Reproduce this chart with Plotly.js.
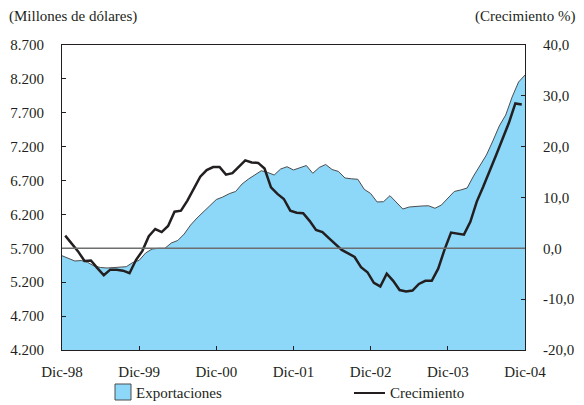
<!DOCTYPE html>
<html>
<head>
<meta charset="utf-8">
<script src="https://cdn.plot.ly/plotly-3.0.1.min.js"></script>
<style>html,body{margin:0;padding:0;background:#fff;}#chart{width:584px;height:405px;}</style>
</head>
<body>
<div id="chart"></div>
<script>
// Monthly index: 0 = Dic-98 ... 72 = Dic-04
const tickLabels = ['Dic-98','Dic-99','Dic-00','Dic-01','Dic-02','Dic-03','Dic-04'];
const tickMonths = [0,12,24,36,48,60,72];

// Exportaciones (millones de dólares), Dic-98 .. Dic-04
const exportaciones = [
  5591,5554,5513,5520,5492,5439,5417,5410,5417,5425,5429,5491,
  5523,5631,5690,5700,5700,5779,5816,5911,6044,6148,6243,6339,
  6420,6457,6506,6539,6649,6723,6782,6845,6819,6782,6870,6904,
  6856,6885,6922,6807,6893,6937,6863,6834,6738,6726,6719,6571,
  6509,6384,6388,6477,6376,6280,6310,6320,6325,6328,6291,6339,
  6443,6539,6561,6590,6767,6929,7077,7284,7505,7667,7933,8154,
  8257
];

// Crecimiento (%), plotted mid-month
const crecimiento = [
  2.5,1.0,-0.6,-2.5,-2.4,-3.9,-5.3,-4.2,-4.2,-4.4,-4.9,-2.3,
  -0.5,2.4,3.8,3.2,4.4,7.2,7.4,9.4,11.9,14.1,15.4,16.0,
  16.0,14.5,14.8,16.1,17.3,16.9,16.8,15.7,12.0,10.7,9.7,7.4,
  7.0,6.9,5.4,3.6,3.2,2.0,0.9,-0.3,-1.0,-1.7,-3.7,-4.7,
  -6.8,-7.5,-5.0,-6.4,-8.2,-8.5,-8.3,-7.0,-6.4,-6.4,-4.0,-0.2,
  3.1,2.9,2.7,5.2,9.2,12.1,15.1,18.3,21.5,24.7,28.5,28.3
];

const leftTicks = [4200,4700,5200,5700,6200,6700,7200,7700,8200,8700];
const rightTicks = [-20,-10,0,10,20,30,40];
const rightTickText = ['-20,0','-10,0','0,0','10,0','20,0','30,0','40,0'];

const xExp = exportaciones.map((_, i) => i);
const xCre = crecimiento.map((_, i) => i + 0.5);

const fontFam = '"Liberation Serif", "Times New Roman", serif';
const txt = '#231f20';

const traces = [
  {
    x: xExp, y: exportaciones, type: 'scatter', mode: 'lines',
    fill: 'tozeroy', fillcolor: '#8dd8f8',
    line: {color: '#4d4d4f', width: 1},
    name: 'Exportaciones', showlegend: false, hoverinfo: 'skip'
  },
  {
    x: xCre, y: crecimiento, type: 'scatter', mode: 'lines', yaxis: 'y2',
    line: {color: '#231f20', width: 2.5},
    name: 'Crecimiento', showlegend: false, hoverinfo: 'skip'
  }
];

// plot area in pixels: x 62..525, y 45..350
const L = 62, R = 525, T = 45, B = 350;
const px = v => (v - L) / (R - L);
const py = v => (B - v) / (B - T);

const layout = {
  width: 584, height: 405,
  margin: {l: L, r: 584 - R, t: T, b: 405 - B, pad: 0},
  paper_bgcolor: '#ffffff', plot_bgcolor: '#ffffff',
  separators: ',.',
  font: {family: fontFam, size: 15, color: txt},
  showlegend: false,
  xaxis: {
    range: [0, 72], tickvals: tickMonths, ticktext: tickLabels,
    ticks: 'inside', ticklen: 4, tickcolor: '#231f20', tickwidth: 1,
    showline: true, linecolor: '#231f20', linewidth: 1, mirror: true,
    showgrid: false, zeroline: false, ticklabelstandoff: 8, fixedrange: true
  },
  yaxis: {
    range: [4200, 8700], tickvals: leftTicks, tickformat: ',d',
    ticks: 'inside', ticklen: 4, tickcolor: '#231f20', tickwidth: 1,
    showline: true, linecolor: '#231f20', linewidth: 1, mirror: true,
    showgrid: false, zeroline: false, ticklabelstandoff: 14, fixedrange: true
  },
  yaxis2: {
    overlaying: 'y', side: 'right',
    range: [-20, 40], tickvals: rightTicks, ticktext: rightTickText,
    ticks: 'inside', ticklen: 4, tickcolor: '#231f20', tickwidth: 1,
    showline: true, linecolor: '#231f20', linewidth: 1,
    showgrid: false, zeroline: false, ticklabelstandoff: 14, fixedrange: true
  },
  shapes: [
    {type: 'line', xref: 'paper', yref: 'y2', x0: 0, x1: 1, y0: 0, y1: 0,
     line: {color: '#6d6e70', width: 1.5}, layer: 'above'},
    // legend swatch
    {type: 'rect', xref: 'paper', yref: 'paper',
     x0: px(115), x1: px(131), y0: py(384), y1: py(400),
     fillcolor: '#8dd8f8', line: {color: '#4d4d4f', width: 1}},
    {type: 'line', xref: 'paper', yref: 'paper',
     x0: px(354), x1: px(385), y0: py(393), y1: py(393),
     line: {color: '#231f20', width: 2}}
  ],
  annotations: [
    {text: '(Millones de dólares)', xref: 'paper', yref: 'paper',
     x: px(7), y: py(16), xanchor: 'left', yanchor: 'middle', showarrow: false},
    {text: '(Crecimiento %)', xref: 'paper', yref: 'paper',
     x: px(577), y: py(16), xanchor: 'right', yanchor: 'middle', showarrow: false},
    {text: 'Exportaciones', xref: 'paper', yref: 'paper',
     x: px(134), y: py(393), xanchor: 'left', yanchor: 'middle', showarrow: false},
    {text: 'Crecimiento', xref: 'paper', yref: 'paper',
     x: px(388), y: py(393), xanchor: 'left', yanchor: 'middle', showarrow: false}
  ]
};

Plotly.newPlot('chart', traces, layout, {staticPlot: true, displayModeBar: false});
</script>
</body>
</html>
